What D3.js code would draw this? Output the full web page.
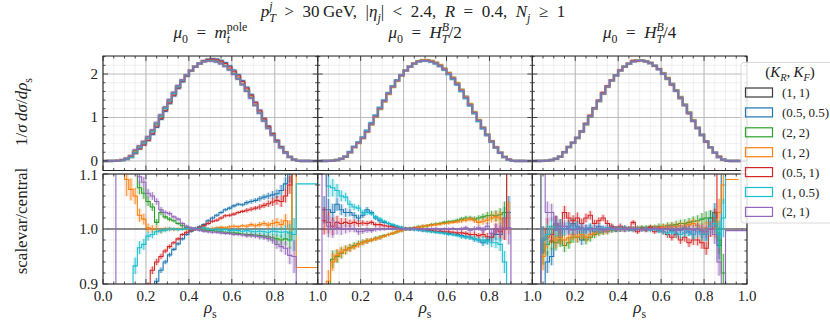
<!DOCTYPE html>
<html>
<head>
<meta charset="utf-8">
<script src="https://cdn.jsdelivr.net/npm/d3@7"></script>
<style>
  body { margin: 0; background: #fff; }
  text { font-family: "Liberation Serif", "DejaVu Serif", serif; fill: #222; }
</style>
</head>
<body>
<svg id="chart" width="830" height="320"></svg>
<script>
// normalised rho_s distribution (central scale), 50 bins of 0.02
var central = [0,0.001,0.003,0.008,0.02,0.05,0.10,0.20,0.32,0.42,
  0.53,0.68,0.85,1.03,1.21,1.38,1.55,1.71,1.85,1.97,
  2.08,2.17,2.24,2.29,2.31,2.31,2.29,2.25,2.19,2.11,
  2.01,1.90,1.77,1.62,1.46,1.29,1.11,0.93,0.76,0.60,
  0.45,0.31,0.19,0.09,0.03,0.004,0.001,0.0005,0.0002,0];

// ratios scalevar/central, mu0 = m_t^pole
var mt_0505 = [null,null,null,null,0.80,0.82,0.84,0.85,0.86,0.87,
  0.88,0.89,0.905,0.925,0.94,0.953,0.963,0.973,0.982,0.99,
  0.996,1.0,1.004,1.008,1.015,1.02,1.025,1.03,1.035,1.038,
  1.042,1.045,1.044,1.048,1.05,1.052,1.055,1.058,1.06,1.062,
  1.064,1.07,1.082,1.10,1.15,1.2,null,null,null,null];
var mt_22 = [null,null,null,null,1.2,1.2,1.2,1.2,1.075,1.065,
  1.05,1.04,1.012,1.03,1.022,1.018,1.015,1.01,1.006,1.003,
  1.0,1.0,0.999,0.998,0.997,0.997,0.996,0.995,0.994,0.993,
  0.993,0.992,0.991,0.99,0.99,0.989,0.988,0.987,0.986,0.984,
  0.982,0.98,0.982,0.98,1.15,null,null,null,null,null];
var mt_12 = [null,null,null,null,1.2,1.09,1.072,1.06,1.025,1.018,
  1.002,1.0,1.0,0.997,1.0,1.0,0.999,1.0,1.001,1.0,
  1.0,1.001,1.0,1.002,1.0,1.001,1.002,1.003,1.002,1.004,
  1.005,1.004,1.006,1.005,1.008,1.006,1.008,1.01,1.007,1.01,
  1.012,1.008,1.015,1.0,1.15,0.93,0.93,0.93,0.93,0.93];
var mt_051 = [null,null,null,null,0.85,0.85,0.85,0.85,0.86,0.87,
  0.895,0.925,0.94,0.95,0.96,0.968,0.975,0.982,0.99,0.994,
  0.998,1.0,1.002,1.006,1.01,1.014,1.016,1.02,1.024,1.025,
  1.027,1.03,1.032,1.034,1.036,1.038,1.04,1.043,1.046,1.049,
  1.052,1.05,1.06,1.08,1.15,null,null,null,null,null];
var mt_105 = [null,null,null,null,0.8,0.8,0.8,0.933,0.966,0.972,
  0.987,0.99,0.995,0.997,0.998,1.0,1.0,0.999,1.0,1.001,
  1.0,1.001,1.0,1.002,1.0,0.999,1.0,0.998,0.999,0.997,
  0.998,0.997,0.996,0.997,0.996,0.995,0.996,0.995,0.994,0.996,
  0.995,0.994,0.995,0.993,0.99,1.082,1.082,1.082,1.082,1.082];
var mt_21 = [null,null,0.7,1.3,1.3,1.3,1.3,1.3,1.095,1.085,
  1.065,1.06,1.05,1.035,1.03,1.028,1.022,1.018,1.01,1.005,
  1.002,1.0,0.998,0.996,0.995,0.994,0.994,0.993,0.992,0.992,
  0.99,0.99,0.989,0.988,0.988,0.987,0.986,0.985,0.983,0.98,
  0.972,0.968,0.965,0.952,0.95,0.7,null,null,null,null];
var mtErr = [0,0,0,0,0.04,0.03,0.02,0.015,0.012,0.01,
  0.008,0.007,0.006,0.005,0.004,0.004,0.003,0.003,0.003,0.003,
  0.003,0.003,0.003,0.003,0.003,0.003,0.003,0.003,0.003,0.003,
  0.003,0.003,0.003,0.004,0.004,0.004,0.005,0.005,0.006,0.007,
  0.008,0.01,0.012,0.016,0.03,0,0,0,0,0];

// mu0 = H_T^B/2
var h2_0505 = [null,1.035,1.035,1.03,1.045,1.035,1.03,1.03,1.025,1.02,
  1.025,1.035,1.03,1.02,1.015,1.012,1.01,1.006,1.004,1.002,
  1.0,1.0,0.999,1.0,0.998,0.997,0.996,0.995,0.995,0.993,
  0.992,0.99,0.99,0.988,0.986,0.985,0.982,0.98,0.975,0.98,
  0.985,0.99,0.99,1.02,1.03,null,null,null,null,null];
var h2_22 = [null,0.8,0.82,0.945,0.95,0.956,0.962,0.966,0.97,0.973,
  0.976,0.978,0.98,0.983,0.985,0.988,0.99,0.992,0.995,0.997,
  1.0,1.001,1.002,1.004,1.005,1.006,1.008,1.009,1.01,1.012,
  1.013,1.014,1.016,1.018,1.02,1.02,1.018,1.02,1.022,1.024,
  1.025,1.024,1.026,1.03,1.2,null,null,null,null,null];
var h2_12 = [null,0.8,0.905,0.94,0.952,0.958,0.962,0.965,0.968,0.972,
  0.975,0.978,0.98,0.982,0.984,0.987,0.99,0.992,0.995,0.997,
  1.0,1.0,1.002,1.003,1.005,1.006,1.007,1.008,1.009,1.01,
  1.011,1.012,1.013,1.015,1.016,1.018,1.016,1.012,1.014,1.016,
  1.02,1.022,1.02,1.0,1.02,null,null,null,null,null];
var h2_051 = [null,1.015,1.012,1.005,1.012,1.01,1.012,1.01,1.012,1.01,
  1.011,1.01,1.012,1.008,1.008,1.006,1.005,1.004,1.003,1.002,
  1.001,1.0,1.0,0.999,0.998,0.998,0.997,0.996,0.996,0.995,
  0.995,0.994,0.993,0.993,0.992,0.99,0.99,0.988,0.99,0.986,
  0.985,1.0,0.995,1.0,1.2,null,null,null,null,null];
var h2_105 = [null,1.2,1.078,1.075,1.07,1.06,1.058,1.045,1.04,1.038,
  1.03,1.03,1.028,1.022,1.018,1.014,1.01,1.008,1.005,1.003,
  1.0,1.0,0.999,0.998,0.997,0.996,0.995,0.994,0.993,0.992,
  0.99,0.99,0.988,0.986,0.985,0.984,0.982,0.98,0.98,0.978,
  0.975,0.975,0.972,0.94,0.8,null,null,null,null,null];
var h2_21 = [0.7,1.3,1.005,1.0,1.002,0.999,1.0,1.001,1.0,0.995,
  0.996,0.998,0.997,0.999,1.0,1.0,1.001,1.0,1.001,1.0,
  1.0,1.0,1.001,1.0,0.999,1.0,1.0,1.001,0.999,1.0,
  1.0,1.001,0.999,1.0,1.002,0.998,1.0,1.002,0.998,1.005,
  0.992,1.0,1.0,1.002,1.002,0.7,null,null,null,null];
var h2Err = [0,0.025,0.02,0.016,0.012,0.01,0.008,0.007,0.006,0.006,
  0.005,0.005,0.004,0.004,0.004,0.003,0.003,0.003,0.003,0.003,
  0.003,0.003,0.003,0.003,0.003,0.003,0.003,0.003,0.003,0.003,
  0.003,0.003,0.003,0.004,0.004,0.004,0.005,0.005,0.006,0.007,
  0.008,0.01,0.012,0.02,0.03,0,0,0,0,0];

// mu0 = H_T^B/4
var h4_0505 = [null,0.8,0.8,0.94,0.95,1.01,0.985,1.0,1.005,1.01,
  1.005,0.98,1.0,1.002,0.995,1.005,1.0,0.998,1.003,1.0,
  1.0,1.002,1.0,0.998,1.0,1.001,0.999,1.0,1.002,0.998,
  1.0,1.003,0.997,1.0,0.998,1.002,0.995,0.99,1.0,0.995,
  0.99,1.02,1.03,0.97,1.2,null,null,null,null,null];
var h4_22 = [null,1.2,0.96,0.972,0.978,0.975,0.98,0.97,0.975,0.985,
  0.985,0.99,0.98,0.985,0.99,0.993,0.995,0.996,0.998,0.999,
  1.0,1.0,1.001,1.001,1.002,1.003,1.003,1.004,1.004,1.005,
  1.005,1.006,1.007,1.008,1.01,1.01,1.012,1.014,1.015,1.018,
  1.02,1.02,1.015,0.98,0.92,0.7,null,null,null,null];
var h4_12 = [null,0.8,0.95,0.985,0.99,0.98,0.985,0.98,0.984,0.99,
  0.986,0.99,0.985,0.99,0.993,0.995,0.996,0.997,0.999,1.0,
  1.0,1.0,1.001,1.0,1.002,1.001,1.0,1.002,1.003,1.002,
  1.004,1.003,1.005,1.004,1.006,1.005,1.008,1.01,1.006,1.0,
  1.002,1.0,1.0,1.03,1.08,1.09,1.09,1.09,null,null];
var h4_051 = [null,0.8,0.98,1.0,0.99,1.01,1.005,1.03,1.02,1.015,
  1.02,1.01,1.02,1.025,1.01,1.015,1.02,1.01,1.005,1.0,
  1.005,1.0,1.0,1.012,0.995,1.0,0.998,1.003,0.995,1.0,
  0.995,0.99,0.985,0.99,0.98,0.985,0.975,0.98,0.98,0.975,
  0.965,1.0,1.02,1.2,null,null,null,null,null,null];
var h4_105 = [null,0.8,0.98,0.99,1.005,1.0,1.005,1.0,1.002,1.0,
  1.003,1.0,0.998,1.002,1.0,0.998,1.0,1.002,0.999,1.0,
  1.001,1.0,0.999,1.0,1.001,0.999,1.0,0.998,1.0,0.997,
  0.995,0.993,0.995,0.992,0.99,0.993,0.995,0.99,0.995,0.99,
  0.99,1.005,1.01,0.99,1.02,1.2,null,null,null,null];
var h4_21 = [null,0.8,1.2,1.03,1.03,1.01,1.0,1.005,1.0,0.998,
  1.0,1.002,1.0,0.999,1.001,1.0,0.998,1.0,1.001,1.0,
  1.0,0.999,1.0,1.001,1.0,0.999,1.0,1.0,1.001,1.0,
  0.999,1.0,1.001,0.998,1.0,1.0,0.999,0.998,1.0,0.997,
  0.995,1.0,0.99,0.94,0.8,0.997,0.997,0.997,0.997,0.997];
var h4Err = [0,0.035,0.025,0.02,0.016,0.014,0.013,0.012,0.011,0.01,
  0.01,0.009,0.008,0.008,0.007,0.006,0.006,0.006,0.005,0.005,
  0.005,0.005,0.004,0.004,0.004,0.004,0.004,0.004,0.004,0.005,
  0.005,0.006,0.006,0.007,0.007,0.008,0.008,0.009,0.01,0.011,
  0.012,0.014,0.017,0.025,0.035,0,0,0,0,0];

var scaleLabels = ["(1,\u20091)", "(0.5,\u20090.5)", "(2,\u20092)", "(1,\u20092)", "(0.5,\u20091)", "(1,\u20090.5)", "(2,\u20091)"];
var colors = ["#3a3a3a", "#1f77b4", "#2ca02c", "#ff7f0e", "#d62728", "#17becf", "#9467bd"];
var xTicks = [0, 0.2, 0.4, 0.6, 0.8, 1.0];

var ratio11 = central.map(function(v) { return v > 0 ? 1 : null; });
var panels = [
  { title: [["μ","i"],["0","b"],["\u2002=\u2002"],["m","i"],["pole","p"],["t","ibu"]],
    ratios: [ratio11, mt_0505, mt_22, mt_12, mt_051, mt_105, mt_21], err: mtErr },
  { title: [["μ","i"],["0","b"],["\u2002=\u2002"],["H","i"],["B","ip"],["T","ibu"],["/2"]],
    ratios: [ratio11, h2_0505, h2_22, h2_12, h2_051, h2_105, h2_21], err: h2Err },
  { title: [["μ","i"],["0","b"],["\u2002=\u2002"],["H","i"],["B","ip"],["T","ibu"],["/4"]],
    ratios: [ratio11, h4_0505, h4_22, h4_12, h4_051, h4_105, h4_21], err: h4Err }
];

var svg = d3.select("#chart");
var defs = svg.append("defs");

// small LaTeX-ish text builder: i = italic, b = subscript, p = superscript, u = stack under previous sup
function tex(sel, parts, size) {
  var t = sel.append("text").style("font-size", size + "px");
  var shift = 0, lastSup = null;
  parts.forEach(function(p) {
    var f = p[1] || "";
    var target = f.indexOf("b") >= 0 ? 0.28 : (f.indexOf("p") >= 0 ? -0.42 : 0);
    var ts = t.append("tspan").text(p[0])
      .style("font-size", (target !== 0 ? size * 0.7 : size) + "px")
      .attr("dy", ((target - shift) * size) + "px");
    if (f.indexOf("i") >= 0) ts.style("font-style", "italic");
    if (f.indexOf("u") >= 0 && lastSup) ts.attr("dx", -lastSup.node().getComputedTextLength());
    shift = target;
    lastSup = f.indexOf("p") >= 0 ? ts : null;
  });
  return t;
}

var x0s = [103, 317.7, 532.3], pw = 214.7;
var yTop = d3.scaleLinear().domain([-0.22, 2.415]).range([170.5, 56]);
var yBot = d3.scaleLinear().domain([0.9, 1.1]).range([284, 174]);
var nb = central.length, bw = 1 / nb;

function stepPath(x, y, vals) {
  var d = "", prev = null;
  vals.forEach(function(v, i) {
    if (v == null) { prev = null; return; }
    var a = x(i * bw), b = x((i + 1) * bw), yy = y(v);
    d += (prev == null ? "M" + a + "," + yy : "L" + a + "," + yy) + "L" + b + "," + yy;
    prev = v;
  });
  return d;
}

function drawFrame(g, x, y, yMajor, yMinor, clipId) {
  var r = y.range();
  var xa = x.range();
  var grid = g.append("g");
  d3.range(0, 1.0001, 0.05).forEach(function(v) {
    grid.append("line").attr("x1", x(v)).attr("x2", x(v)).attr("y1", r[0]).attr("y2", r[1])
      .attr("stroke", "#e8e8e8").attr("stroke-width", 0.6);
  });
  yMinor.forEach(function(v) {
    grid.append("line").attr("x1", xa[0]).attr("x2", xa[1]).attr("y1", y(v)).attr("y2", y(v))
      .attr("stroke", "#e8e8e8").attr("stroke-width", 0.6);
  });
  xTicks.forEach(function(v) {
    grid.append("line").attr("x1", x(v)).attr("x2", x(v)).attr("y1", r[0]).attr("y2", r[1])
      .attr("stroke", "#b4b4b4").attr("stroke-width", 0.9);
  });
  yMajor.forEach(function(v) {
    grid.append("line").attr("x1", xa[0]).attr("x2", xa[1]).attr("y1", y(v)).attr("y2", y(v))
      .attr("stroke", "#b4b4b4").attr("stroke-width", 0.9);
  });
  defs.append("clipPath").attr("id", clipId).append("rect")
    .attr("x", xa[0]).attr("y", r[1]).attr("width", xa[1] - xa[0]).attr("height", r[0] - r[1]);
}

function drawTicks(g, x, y, yMajor, yMinor) {
  var r = y.range(), xa = x.range();
  var tk = g.append("g").attr("stroke", "#222").attr("stroke-width", 0.8);
  d3.range(0, 1.0001, 0.05).forEach(function(v) {
    var L = xTicks.some(function(t) { return Math.abs(t - v) < 1e-6; }) ? 5 : 2.5;
    tk.append("line").attr("x1", x(v)).attr("x2", x(v)).attr("y1", r[0]).attr("y2", r[0] - L);
    tk.append("line").attr("x1", x(v)).attr("x2", x(v)).attr("y1", r[1]).attr("y2", r[1] + L);
  });
  yMinor.forEach(function(v) {
    tk.append("line").attr("x1", xa[0]).attr("x2", xa[0] + 2.5).attr("y1", y(v)).attr("y2", y(v));
    tk.append("line").attr("x1", xa[1]).attr("x2", xa[1] - 2.5).attr("y1", y(v)).attr("y2", y(v));
  });
  yMajor.forEach(function(v) {
    tk.append("line").attr("x1", xa[0]).attr("x2", xa[0] + 5).attr("y1", y(v)).attr("y2", y(v));
    tk.append("line").attr("x1", xa[1]).attr("x2", xa[1] - 5).attr("y1", y(v)).attr("y2", y(v));
  });
  g.append("rect").attr("x", xa[0]).attr("y", r[1]).attr("width", xa[1] - xa[0]).attr("height", r[0] - r[1])
    .attr("fill", "none").attr("stroke", "#222").attr("stroke-width", 1);
}

var topMajor = [0, 1, 2], topMinor = [0.2, 0.4, 0.6, 0.8, 1.2, 1.4, 1.6, 1.8, 2.2, 2.4];
var botMajor = [0.9, 1.0, 1.1], botMinor = [0.92, 0.94, 0.96, 0.98, 1.02, 1.04, 1.06, 1.08];

panels.forEach(function(p, k) {
  var x = d3.scaleLinear().domain([0, 1]).range([x0s[k], x0s[k] + pw]);
  var gT = svg.append("g"), gB = svg.append("g");
  drawFrame(gT, x, yTop, topMajor, topMinor, "ct" + k);
  drawFrame(gB, x, yBot, botMajor, botMinor, "cb" + k);

  // top: each variation = central * ratio
  var lt = gT.append("g").attr("clip-path", "url(#ct" + k + ")");
  p.ratios.forEach(function(r, s) {
    var vals = central.map(function(c, i) { return c * (r[i] == null ? 1 : r[i]); });
    var d = stepPath(x, yTop, vals);
    lt.append("path").attr("d", d).attr("fill", "none").attr("stroke", colors[s])
      .attr("stroke-opacity", 0.22).attr("stroke-width", 2.6);
    lt.append("path").attr("d", d).attr("fill", "none").attr("stroke", colors[s]).attr("stroke-width", 1);
  });

  // bottom: ratios with uncertainty bands and bars
  var lb = gB.append("g").attr("clip-path", "url(#cb" + k + ")");
  p.ratios.forEach(function(r, s) {
    var e = s === 0 ? central.map(function() { return 0; }) : p.err;
    r.forEach(function(v, i) {
      if (v == null || !e[i]) return;
      lb.append("rect").attr("x", x(i * bw)).attr("width", x(bw) - x(0))
        .attr("y", yBot(v + e[i])).attr("height", yBot(v - e[i]) - yBot(v + e[i]))
        .attr("fill", colors[s]).attr("fill-opacity", 0.2);
    });
    lb.append("path").attr("d", stepPath(x, yBot, r)).attr("fill", "none")
      .attr("stroke", colors[s]).attr("stroke-width", 1.1);
    r.forEach(function(v, i) {
      if (v == null || !e[i]) return;
      lb.append("line").attr("x1", x((i + 0.5) * bw)).attr("x2", x((i + 0.5) * bw))
        .attr("y1", yBot(v - e[i])).attr("y2", yBot(v + e[i]))
        .attr("stroke", colors[s]).attr("stroke-width", 0.8);
    });
  });

  drawTicks(gT, x, yTop, topMajor, topMinor);
  drawTicks(gB, x, yBot, botMajor, botMinor);

  // x tick labels
  xTicks.forEach(function(v) {
    if (k > 0 && v === 0) return;
    svg.append("text").attr("x", x(v)).attr("y", 301).attr("text-anchor", "middle")
      .style("font-size", "15px").text(d3.format(".1f")(v));
  });
  tex(svg, [["ρ","i"],["s","b"]], 17).attr("x", x(0.5)).attr("y", 313).attr("text-anchor", "middle");
  tex(svg, p.title, 17).attr("x", x(0.5)).attr("y", 38).attr("text-anchor", "middle");
});

// y tick labels (first column only)
topMajor.forEach(function(v) {
  svg.append("text").attr("x", 98).attr("y", yTop(v) + 5).attr("text-anchor", "end")
    .style("font-size", "15px").text(v);
});
botMajor.forEach(function(v) {
  svg.append("text").attr("x", 98).attr("y", yBot(v) + (v > 1.05 ? 6 : 5)).attr("text-anchor", "end")
    .style("font-size", "15px").text(d3.format(".1f")(v));
});

// axis titles
tex(svg, [["1/"],["σ","i"],["\u2009"],["dσ","i"],["/"],["dρ","i"],["s","b"]], 17)
  .attr("text-anchor", "middle").attr("transform", "translate(27,112) rotate(-90)");
tex(svg, [["scalevar/central"]], 17)
  .attr("text-anchor", "middle").attr("transform", "translate(27,221) rotate(-90)");

// overall title
tex(svg, [["p","i"],["j","ip"],["T","ibu"],["\u2002>\u200230\u2009GeV,\u2002|"],["η","i"],["j","ib"],["|\u2002<\u20022.4,\u2002"],
  ["R","i"],["\u2002=\u20020.4,\u2002"],["N","i"],["j","ib"],["\u2002≥\u20021"]], 17)
  .attr("x", 413).attr("y", 17).attr("text-anchor", "middle");

// legend
var lg = svg.append("g");
lg.append("rect").attr("x", 741).attr("y", 62.5).attr("width", 100).attr("height", 160.5).attr("rx", 3)
  .attr("fill", "#fff").attr("fill-opacity", 0.85).attr("stroke", "#d0d0d0").attr("stroke-width", 0.8);
tex(lg, [["("],["K","i"],["R","ib"],[",\u2009"],["K","i"],["F","ib"],[")"]], 15)
  .attr("x", 790).attr("y", 77).attr("text-anchor", "middle");
scaleLabels.forEach(function(lab, s) {
  var cy = 92.5 + s * 19.9;
  lg.append("rect").attr("x", 745.5).attr("y", cy - 4.5).attr("width", 27).attr("height", 9)
    .attr("fill", "none").attr("stroke", colors[s]).attr("stroke-width", 1.2);
  lg.append("text").attr("x", 782).attr("y", cy + 4.5).style("font-size", "13px").text(lab);
});
</script>
</body>
</html>
